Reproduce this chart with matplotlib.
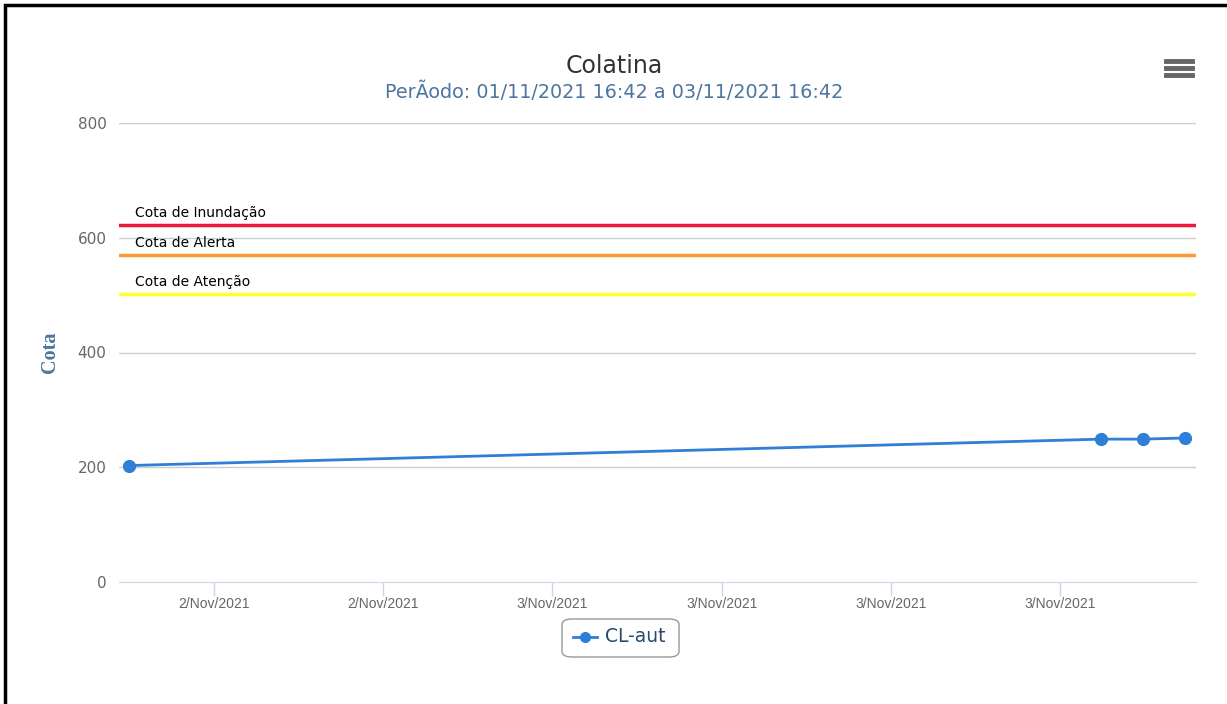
import datetime as dt

import matplotlib
matplotlib.use("Agg")
import matplotlib.pyplot as plt
import matplotlib.dates as mdates
from matplotlib.patches import FancyBboxPatch, Rectangle
from matplotlib.lines import Line2D

# dados
horarios = [dt.datetime(2021, 11, 2, 9, 0), dt.datetime(2021, 11, 3, 19, 27),
            dt.datetime(2021, 11, 3, 20, 56), dt.datetime(2021, 11, 3, 22, 25)]
cotas = [203, 249, 249, 251]
serie_nome = "CL-aut"

faixas_nomes = ["Cota de Inundação", "Cota de Alerta", "Cota de Atenção"]
faixas_valores = [622, 570, 502]
faixas_cores = ["#f0163a", "#ff9933", "#ffff33"]

titulo = "Colatina"
subtitulo = "PerÃodo: 01/11/2021 16:42 a 03/11/2021 16:42"
ticks_x = [dt.datetime(2021, 11, 2, 12), dt.datetime(2021, 11, 2, 18),
           dt.datetime(2021, 11, 3, 0), dt.datetime(2021, 11, 3, 6),
           dt.datetime(2021, 11, 3, 12), dt.datetime(2021, 11, 3, 18)]
ticks_y = [0, 200, 400, 600, 800]

W, H = 1227, 704
fig = plt.figure(figsize=(W / 100, H / 100), dpi=100)
ax = fig.add_axes([119 / W, 1 - 582 / H, (1196 - 119) / W, (582 - 123) / H])

# grade horizontal
for v in ticks_y[1:]:
    ax.axhline(v, color="#cccccc", lw=1, zorder=0)

# linhas de cota
for nome, val, cor in zip(faixas_nomes, faixas_valores, faixas_cores):
    ax.axhline(val, color=cor, lw=2.5, zorder=1)
    ax.annotate(nome, xy=(0, val), xycoords=("axes fraction", "data"),
                xytext=(16, 5), textcoords="offset pixels",
                fontsize=10, color="black", va="bottom", ha="left")

ax.plot(horarios, cotas, color="#2f7ed8", lw=2, marker="o", ms=8.5, zorder=3)

ax.set_xlim(dt.datetime(2021, 11, 2, 8, 38), dt.datetime(2021, 11, 3, 22, 49))
ax.set_ylim(0, 800)
ax.set_xticks(ticks_x)
ax.xaxis.set_major_formatter(mdates.DateFormatter("%-d/%b/%Y"))
ax.set_yticks(ticks_y)

for s in ["top", "right", "left"]:
    ax.spines[s].set_visible(False)
ax.spines["bottom"].set_color("#ccd6eb")
ax.tick_params(axis="x", colors="#ccd6eb", labelcolor="#666666", length=10,
               width=1, labelsize=10, pad=1)
ax.tick_params(axis="y", length=0, labelcolor="#666666", labelsize=11, pad=9)
for lab in ax.get_xticklabels():
    lab.set_family("Liberation Sans")

ax.set_ylabel("Cota", fontsize=14.5, color="#4d759e", fontweight="bold",
              family="Liberation Serif")
ax.yaxis.set_label_coords((60 - 119) / (1196 - 119), (582 - 352) / (582 - 123))

fig.text(614 / W, 1 - 66 / H, titulo, ha="center", va="center",
         fontsize=17, color="#333333")
fig.text(614 / W, 1 - 92 / H, subtitulo, ha="center", va="center",
         fontsize=13.8, color="#4d759e")

# legenda
leg_box = FancyBboxPatch((562 / W, 1 - 657 / H), 117 / W, 38 / H,
                         boxstyle="round,pad=0,rounding_size=0.008",
                         transform=fig.transFigure, fc="white", ec="#999999",
                         lw=1, figure=fig)
fig.patches.append(leg_box)
fig.lines.append(Line2D([573 / W, 597 / W], [1 - 637 / H] * 2,
                        transform=fig.transFigure, color="#2f7ed8", lw=2,
                        figure=fig))
fig.lines.append(Line2D([585 / W], [1 - 637 / H], transform=fig.transFigure,
                        color="#2f7ed8", marker="o", ms=7, figure=fig))
fig.text(605 / W, 1 - 637 / H, serie_nome, ha="left", va="center",
         fontsize=13.5, color="#274b6d")

# ícone de menu
for yy in [61, 68, 75]:
    fig.lines.append(Line2D([1166 / W, 1192 / W], [1 - yy / H] * 2,
                            transform=fig.transFigure, color="#666666", lw=3.5,
                            figure=fig))

# borda
fig.patches.append(Rectangle((5 / W, -0.1), 1.2, 1 - 5 / H + 0.1,
                             transform=fig.transFigure, fill=False,
                             ec="black", lw=2.5, figure=fig))

fig.savefig("out.png", dpi=100)
